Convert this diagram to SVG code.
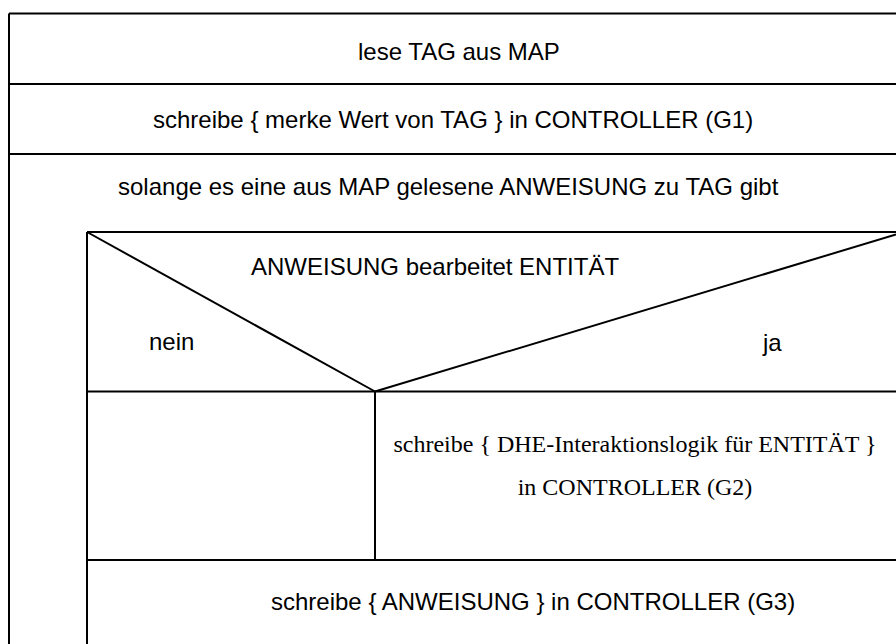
<svg xmlns="http://www.w3.org/2000/svg" width="896" height="644" viewBox="0 0 896 644">
  <style>
    .ln { stroke: #000; stroke-width: 2; fill: none; }
    .sans { font-family: "Liberation Sans", Arial, sans-serif; font-size: 24px; fill: #000; }
    .serif { font-family: "Liberation Serif", "Times New Roman", serif; font-size: 24px; fill: #000; }
  </style>
  <rect x="0" y="0" width="896" height="644" fill="#fff"/>

  <!-- Step 1: read tag -->
  <g id="read-tag">
    <line class="ln" x1="9" y1="13.5" x2="896" y2="13.5"/>
    <text class="sans" x="358" y="60">lese TAG aus MAP</text>
  </g>

  <!-- Step 2: store tag value -->
  <g id="write-g1">
    <line class="ln" x1="9" y1="84" x2="896" y2="84"/>
    <text class="sans" x="153" y="128">schreibe { merke Wert von TAG } in CONTROLLER (G1)</text>
  </g>

  <!-- Loop over statements -->
  <g id="loop">
    <line class="ln" x1="9" y1="154" x2="896" y2="154"/>
    <line class="ln" x1="9" y1="13.5" x2="9" y2="644"/>
    <text class="sans" x="118" y="195">solange es eine aus MAP gelesene ANWEISUNG zu TAG gibt</text>
  </g>

  <!-- Decision: does the statement handle an entity -->
  <g id="decision">
    <line class="ln" x1="87" y1="232" x2="896" y2="232"/>
    <line class="ln" x1="87" y1="232" x2="87" y2="644"/>
    <line class="ln" x1="87" y1="232" x2="375" y2="391.5"/>
    <line class="ln" x1="375" y1="391.5" x2="896" y2="234.5"/>
    <line class="ln" x1="87" y1="391.5" x2="896" y2="391.5"/>
    <text class="sans" x="251" y="275">ANWEISUNG bearbeitet ENTITÄT</text>
    <text class="sans" x="149" y="350">nein</text>
    <text class="sans" x="763" y="351">ja</text>
  </g>

  <!-- Branch "nein": empty -->
  <g id="branch-no">
    <line class="ln" x1="375" y1="391.5" x2="375" y2="560"/>
  </g>

  <!-- Branch "ja": write interaction logic -->
  <g id="write-g2">
    <text class="serif" x="635" y="452" text-anchor="middle">schreibe { DHE-Interaktionslogik für ENTITÄT }</text>
    <text class="serif" x="635" y="495" text-anchor="middle">in CONTROLLER (G2)</text>
  </g>

  <!-- Step 3: write statement -->
  <g id="write-g3">
    <line class="ln" x1="87" y1="560" x2="896" y2="560"/>
    <text class="sans" x="271" y="610">schreibe { ANWEISUNG } in CONTROLLER (G3)</text>
  </g>

  <g id="connectors"></g>
</svg>
